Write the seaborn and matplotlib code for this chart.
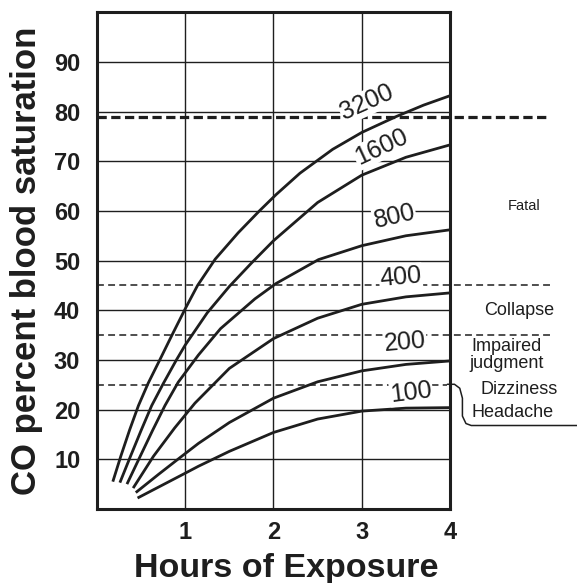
import matplotlib.pyplot as plt
import pandas as pd
import seaborn as sns

# CO in air (ppm) -> blood saturation curves
ppm_levels = ['3200', '1600', '800', '400', '200', '100']

hours_3200 = [0.18, 0.27, 0.37, 0.47, 0.58, 0.72, 0.85, 1.0, 1.14, 1.34, 1.6, 1.84, 2.03, 2.3, 2.67, 3.0, 3.39, 3.7, 4.0]
sat_3200 = [5.5, 10.6, 15.9, 20.8, 25.3, 30.3, 35.0, 40.3, 45.0, 50.3, 55.6, 60.0, 63.3, 67.6, 72.4, 75.8, 79.0, 81.3, 83.2]

hours_1600 = [0.26, 0.38, 0.5, 0.62, 0.75, 0.9, 1.0, 1.25, 1.5, 1.75, 2.0, 2.5, 3.0, 3.5, 4.0]
sat_1600 = [5.3, 10.6, 15.8, 20.8, 25.2, 30.0, 33.0, 39.5, 44.8, 49.5, 54.0, 61.7, 67.2, 70.8, 73.3]

hours_800 = [0.34, 0.49, 0.63, 0.77, 0.92, 1.15, 1.4, 1.79, 2.03, 2.51, 3.0, 3.5, 4.0]
sat_800 = [5.0, 10.6, 15.8, 20.8, 25.5, 31.0, 36.3, 42.3, 45.4, 50.2, 53.0, 55.0, 56.2]

hours_400 = [0.41, 0.64, 0.88, 1.11, 1.5, 2.0, 2.5, 3.0, 3.5, 4.0]
sat_400 = [4.2, 10.6, 16.3, 21.3, 28.3, 34.3, 38.4, 41.2, 42.7, 43.5]

hours_200 = [0.44, 0.7, 0.96, 1.15, 1.5, 2.0, 2.5, 3.0, 3.5, 4.0]
sat_200 = [3.3, 7.0, 10.6, 13.2, 17.4, 22.3, 25.6, 27.8, 29.1, 29.8]

hours_100 = [0.46, 1.0, 1.15, 1.5, 2.0, 2.5, 3.0, 3.5, 4.0]
sat_100 = [2.2, 7.2, 8.6, 11.6, 15.4, 18.1, 19.7, 20.3, 20.4]

# effect zones on the right
fatal_level = 79
zone_levels = [45, 35, 25]
effect_labels = ['Fatal', 'Collapse', 'Impaired\njudgment', 'Dizziness', 'Headache']

hours = [hours_3200, hours_1600, hours_800, hours_400, hours_200, hours_100]
sats = [sat_3200, sat_1600, sat_800, sat_400, sat_200, sat_100]
frames = []
for ppm, h, s in zip(ppm_levels, hours, sats):
    frames.append(pd.DataFrame({'hours': h, 'sat': s, 'ppm': ppm}))
df = pd.concat(frames, ignore_index=True)

sns.set_style('white')
plt.rcParams['font.family'] = ['Liberation Sans', 'DejaVu Sans']
ink = '#1e1e1e'

fig = plt.figure(figsize=(5.77, 5.83), dpi=100)
ax = fig.add_axes([0.168, 0.127, 0.612, 0.852])

sns.lineplot(data=df, x='hours', y='sat', hue='ppm', hue_order=ppm_levels,
             palette=[ink] * len(ppm_levels), estimator=None, sort=False,
             lw=2.0, legend=False, ax=ax, zorder=3,
             solid_joinstyle='round', solid_capstyle='butt')

ax.set_xlim(0, 4)
ax.set_ylim(0, 100)
ax.set_xticks([1, 2, 3, 4])
ax.set_yticks(range(10, 100, 10))
ax.grid(True, color=ink, lw=1.0)
ax.set_axisbelow(True)
for sp in ax.spines.values():
    sp.set_linewidth(2.2)
    sp.set_color(ink)
ax.tick_params(length=0, labelsize=17, colors=ink)
ax.tick_params(axis='y', pad=12)
ax.tick_params(axis='x', pad=9)
for lab in ax.get_xticklabels() + ax.get_yticklabels():
    lab.set_fontweight('bold')

ax.set_xlabel('Hours of Exposure', fontsize=24.5, fontweight='bold', color=ink, labelpad=6)
ax.xaxis.label.set_x(0.535)
ax.set_ylabel('CO percent blood saturation', fontsize=25, fontweight='bold', color=ink, labelpad=8)

# dashed zone boundaries
ax.plot([0, 5.13], [fatal_level, fatal_level], color=ink, lw=2.3,
        dashes=(2.9, 1.4), clip_on=False, zorder=2)
ax.plot([0, 5.16], [zone_levels[0]] * 2, color=ink, lw=1.1, dashes=(4.5, 2.8), clip_on=False, zorder=2)
ax.plot([0, 5.16], [zone_levels[1]] * 2, color=ink, lw=1.1, dashes=(4.5, 2.8), clip_on=False, zorder=2)
ax.plot([0, 3.97], [zone_levels[2]] * 2, color=ink, lw=1.1, dashes=(4.5, 2.8), clip_on=False, zorder=2)
# bracket from the 25% line down to the headache zone
ax.plot([3.97, 4.05, 4.11, 4.14, 4.14, 4.18, 4.24, 5.44],
        [25.1, 25.1, 24.3, 22.3, 18.7, 17.2, 16.8, 16.8],
        color=ink, lw=1.1, clip_on=False, zorder=2)

# curve labels
label_spots = [(3.06, 81.8, 24), (3.22, 72.8, 25), (3.37, 58.8, 13),
               (3.44, 46.7, 5), (3.49, 33.6, 5), (3.56, 23.5, 7)]
for ppm, (x, y, rot) in zip(ppm_levels, label_spots):
    ax.text(x, y, ppm, rotation=rot, ha='center', va='center', fontsize=18,
            color=ink, zorder=5, rotation_mode='anchor',
            bbox=dict(facecolor='white', edgecolor='none', pad=0.5))

effect_spots = [(4.84, 61.0, 10.5), (4.78, 40.0, 13), (4.64, 30.9, 13),
                (4.78, 24.1, 13), (4.71, 19.5, 13)]
for txt, (x, y, fs) in zip(effect_labels, effect_spots):
    ax.text(x, y, txt, ha='center', va='center', fontsize=fs, color=ink,
            linespacing=1.0, clip_on=False)

fig.savefig('out.png', dpi=100)
